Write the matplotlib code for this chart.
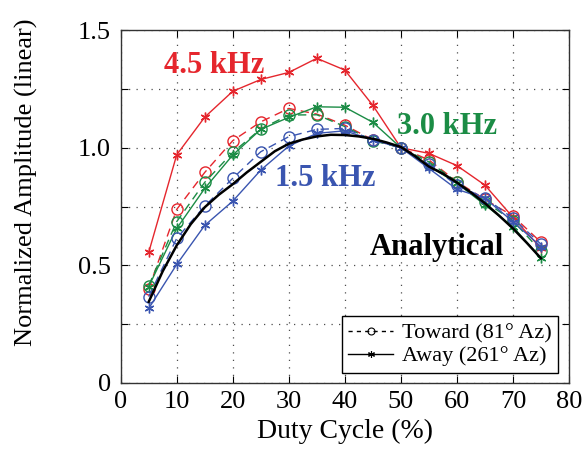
import matplotlib
matplotlib.use("Agg")
import matplotlib.pyplot as plt
from matplotlib.ticker import MultipleLocator, FuncFormatter
from matplotlib.lines import Line2D

plt.rcParams["font.family"] = ["Liberation Serif", "DejaVu Serif"]

duty = [5, 10, 15, 20, 25, 30, 35, 40, 45, 50, 55, 60, 65, 70, 75]

# 4.5 kHz
red_away = [0.555, 0.97, 1.13, 1.24, 1.29, 1.32, 1.38, 1.33, 1.18, 1.0, 0.976, 0.924, 0.841, 0.704, 0.572]
red_toward = [0.40, 0.738, 0.895, 1.03, 1.11, 1.167, 1.143, 1.096, 1.033, 1.0, 0.948, 0.856, 0.78, 0.71, 0.598]
# 3.0 kHz
green_away = [0.41, 0.657, 0.827, 0.969, 1.078, 1.129, 1.174, 1.172, 1.108, 1.0, 0.922, 0.849, 0.757, 0.664, 0.53]
green_toward = [0.414, 0.686, 0.853, 0.98, 1.08, 1.139, 1.14, 1.09, 1.03, 1.0, 0.94, 0.855, 0.77, 0.69, 0.56]
# 1.5 kHz
blue_away = [0.317, 0.504, 0.67, 0.773, 0.905, 1.007, 1.061, 1.072, 1.033, 1.0, 0.912, 0.823, 0.785, 0.686, 0.58]
blue_toward = [0.367, 0.615, 0.752, 0.87, 0.983, 1.047, 1.078, 1.082, 1.033, 1.0, 0.93, 0.84, 0.787, 0.70, 0.59]

# analytical curve
duty_fine = [5, 7.5, 10, 12.5, 15, 17.5, 20, 22.5, 25, 27.5, 30, 32.5, 35, 37.5, 40,
             42.5, 45, 47.5, 50, 52.5, 55, 57.5, 60, 62.5, 65, 67.5, 70, 72.5, 75]
analytical = [0.345, 0.475, 0.585, 0.675, 0.747, 0.80, 0.845, 0.895, 0.94, 0.985, 1.017,
              1.035, 1.048, 1.055, 1.054, 1.048, 1.038, 1.022, 1.003, 0.965, 0.92, 0.89,
              0.852, 0.81, 0.764, 0.712, 0.657, 0.595, 0.53]

RED = "#e5262d"
GREEN = "#1b8c45"
BLUE = "#3a55b0"

fig = plt.figure(figsize=(5.87, 4.49), dpi=100)
ax = fig.add_axes([0.2056, 0.147, 0.7637, 0.786])

dash = (0, (6, 4))
series = [
    (red_toward, red_away, RED),
    (green_toward, green_away, GREEN),
    (blue_toward, blue_away, BLUE),
]
for toward, away, c in series:
    ax.plot(duty, toward, color=c, lw=1.0, linestyle=dash, marker="o", ms=8,
            mfc="none", mec=c, mew=1.0)
    ax.plot(duty, away, color=c, lw=1.0, marker=(6, 2, 0), ms=7, mec=c, mew=1.0)

ax.plot(duty_fine, analytical, color="black", lw=1.8)

# labels on the curves
ax.text(7.7, 1.35, "4.5 kHz", color=RED, fontsize=22, fontweight="bold", va="center")
ax.text(49.3, 1.092, "3.0 kHz", color=GREEN, fontsize=22, fontweight="bold", va="center")
ax.text(27.5, 0.87, "1.5 kHz", color=BLUE, fontsize=22, fontweight="bold", va="center")
ax.text(44.5, 0.578, "Analytical", color="black", fontsize=22, fontweight="bold", va="center")

ax.set_xlim(0, 80)
ax.set_ylim(0, 1.5)
ax.xaxis.set_major_locator(MultipleLocator(10))
ax.yaxis.set_major_locator(MultipleLocator(0.25))


def ylab(v, pos):
    if abs(v) < 1e-9:
        return "0"
    if abs(v * 2 - round(v * 2)) < 1e-9:
        return f"{v:.1f}"
    return ""


ax.yaxis.set_major_formatter(FuncFormatter(ylab))
ax.tick_params(direction="in", length=5, width=0.8, top=True, right=True,
               labelsize=19)
ax.tick_params(axis="x", pad=6)
ax.tick_params(axis="y", pad=7)
ax.grid(True, color="0.3", linestyle=(0, (1, 5)), lw=0.9)
for s in ax.spines.values():
    s.set_linewidth(1.0)
    s.set_color("0.2")

ax.set_xlabel("Duty Cycle (%)", fontsize=20, labelpad=4)
ax.set_ylabel("Normalized Amplitude (linear)", fontsize=19)
ax.yaxis.set_label_coords(-0.185, 0.57)

handles = [
    Line2D([], [], color="black", lw=1.0, linestyle=(0, (3, 3)), marker="o", ms=5,
           mfc="none", mew=0.8),
    Line2D([], [], color="black", lw=1.0, marker=(6, 2, 0), ms=5, mew=0.8),
]
leg = ax.legend(handles, ["Toward (81° Az)", "Away (261° Az)"], loc="lower right",
                bbox_to_anchor=(0.976, 0.028), fontsize=16, frameon=True, fancybox=False,
                edgecolor="black", framealpha=1, handlelength=2.0, handletextpad=0.4,
                borderpad=0.3, labelspacing=0.1, borderaxespad=0)
leg.get_frame().set_linewidth(1.0)

fig.savefig("out.png", dpi=100)
